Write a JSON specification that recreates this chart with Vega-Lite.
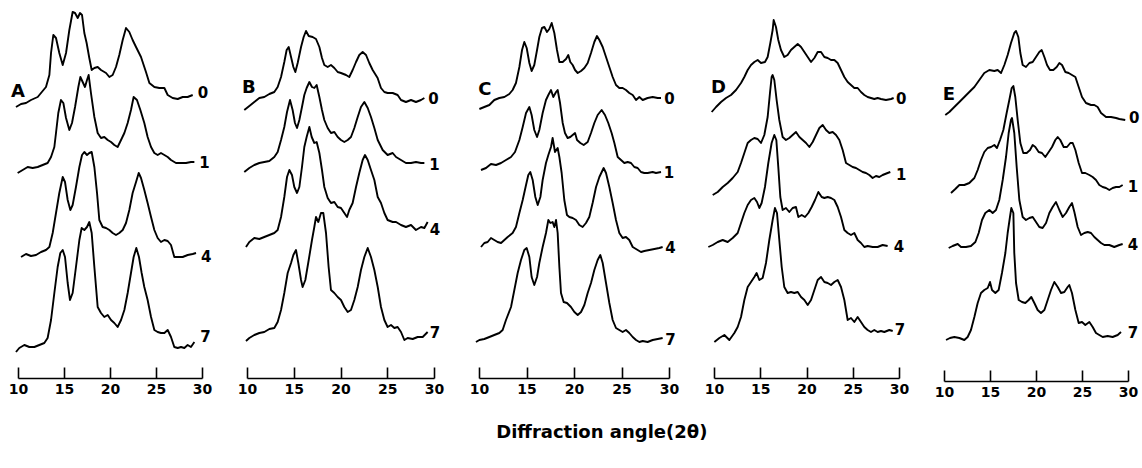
{
"$schema":"https://vega.github.io/schema/vega-lite/v6.json",
"background":"white",
"padding":{"left":8,"top":0,"right":5,"bottom":5},
"autosize":{"type":"pad"},
"config":{"view":{"stroke":null},"axis":{"domainColor":"black","domainWidth":1.6,"tickColor":"black","tickWidth":1.6,"tickSize":-11,"labelFont":"DejaVu Sans","labelFontWeight":"bold","labelFontSize":14,"labelColor":"black","labelPadding":15,"grid":false,"title":null,"labelFlush":false,"labelOverlap":false}},
"title":{"text":"Diffraction angle(2θ)","orient":"bottom","anchor":"middle","font":"DejaVu Sans","fontSize":18,"fontWeight":"bold","color":"black","offset":25,"dx":28},
"spacing":45,
"bounds":"flush",
"datasets":{
"labels":[
{"p":"A","k":"panel","t":"A","x":9.24,"y":286},{"p":"A","k":"sample","t":"0","x":29.53,"y":285},{"p":"A","k":"sample","t":"1","x":29.7,"y":215},{"p":"A","k":"sample","t":"4","x":29.9,"y":121},{"p":"A","k":"sample","t":"7","x":29.8,"y":41},
{"p":"B","k":"panel","t":"B","x":9.47,"y":290},{"p":"B","k":"sample","t":"0","x":29.39,"y":279},{"p":"B","k":"sample","t":"1","x":29.5,"y":213},{"p":"B","k":"sample","t":"4","x":29.55,"y":148},{"p":"B","k":"sample","t":"7","x":29.55,"y":45},
{"p":"C","k":"panel","t":"C","x":9.93,"y":288},{"p":"C","k":"sample","t":"0","x":29.5,"y":279},{"p":"C","k":"sample","t":"1","x":29.46,"y":205},{"p":"C","k":"sample","t":"4","x":29.6,"y":130},{"p":"C","k":"sample","t":"7","x":29.6,"y":38},
{"p":"D","k":"panel","t":"D","x":9.68,"y":290},{"p":"D","k":"sample","t":"0","x":29.68,"y":279},{"p":"D","k":"sample","t":"1","x":29.68,"y":203},{"p":"D","k":"sample","t":"4","x":29.43,"y":131},{"p":"D","k":"sample","t":"7","x":29.55,"y":48},
{"p":"E","k":"panel","t":"E","x":9.86,"y":286},{"p":"E","k":"sample","t":"0","x":30.1,"y":263},{"p":"E","k":"sample","t":"1","x":29.97,"y":194},{"p":"E","k":"sample","t":"4","x":29.97,"y":136},{"p":"E","k":"sample","t":"7","x":29.97,"y":48}
],
"curves":[
{"p":"A","s":"0","x":9.78,"y":271},{"p":"A","s":"0","x":10.33,"y":274},{"p":"A","s":"0","x":10.87,"y":275},{"p":"A","s":"0","x":11.41,"y":278},{"p":"A","s":"0","x":12.14,"y":281},{"p":"A","s":"0","x":12.68,"y":287},{"p":"A","s":"0","x":13.04,"y":291},{"p":"A","s":"0","x":13.41,"y":303},{"p":"A","s":"0","x":13.59,"y":325},{"p":"A","s":"0","x":13.84,"y":343},{"p":"A","s":"0","x":14.13,"y":340},{"p":"A","s":"0","x":14.49,"y":325},{"p":"A","s":"0","x":14.86,"y":313},{"p":"A","s":"0","x":15.22,"y":325},{"p":"A","s":"0","x":15.58,"y":348},{"p":"A","s":"0","x":15.94,"y":366},{"p":"A","s":"0","x":16.2,"y":365},{"p":"A","s":"0","x":16.49,"y":360},{"p":"A","s":"0","x":16.74,"y":365},{"p":"A","s":"0","x":16.96,"y":363},{"p":"A","s":"0","x":17.21,"y":345},{"p":"A","s":"0","x":17.46,"y":335},{"p":"A","s":"0","x":17.75,"y":320},{"p":"A","s":"0","x":18.01,"y":308},{"p":"A","s":"0","x":18.3,"y":310},{"p":"A","s":"0","x":18.66,"y":311},{"p":"A","s":"0","x":19.02,"y":308},{"p":"A","s":"0","x":19.57,"y":305},{"p":"A","s":"0","x":19.93,"y":301},{"p":"A","s":"0","x":20.29,"y":303},{"p":"A","s":"0","x":20.65,"y":311},{"p":"A","s":"0","x":21.01,"y":323},{"p":"A","s":"0","x":21.38,"y":338},{"p":"A","s":"0","x":21.74,"y":350},{"p":"A","s":"0","x":22.1,"y":346},{"p":"A","s":"0","x":22.46,"y":338},{"p":"A","s":"0","x":22.83,"y":331},{"p":"A","s":"0","x":23.37,"y":321},{"p":"A","s":"0","x":23.91,"y":306},{"p":"A","s":"0","x":24.28,"y":295},{"p":"A","s":"0","x":24.82,"y":291},{"p":"A","s":"0","x":25.36,"y":290},{"p":"A","s":"0","x":25.91,"y":290},{"p":"A","s":"0","x":26.27,"y":283},{"p":"A","s":"0","x":26.81,"y":280},{"p":"A","s":"0","x":27.36,"y":279},{"p":"A","s":"0","x":27.9,"y":281},{"p":"A","s":"0","x":28.44,"y":281},{"p":"A","s":"0","x":28.99,"y":283},
{"p":"A","s":"1","x":9.96,"y":205},{"p":"A","s":"1","x":10.51,"y":208},{"p":"A","s":"1","x":11.05,"y":211},{"p":"A","s":"1","x":11.59,"y":210},{"p":"A","s":"1","x":12.14,"y":211},{"p":"A","s":"1","x":12.68,"y":213},{"p":"A","s":"1","x":13.22,"y":215},{"p":"A","s":"1","x":13.59,"y":221},{"p":"A","s":"1","x":13.95,"y":231},{"p":"A","s":"1","x":14.13,"y":245},{"p":"A","s":"1","x":14.38,"y":265},{"p":"A","s":"1","x":14.67,"y":278},{"p":"A","s":"1","x":14.93,"y":275},{"p":"A","s":"1","x":15.22,"y":260},{"p":"A","s":"1","x":15.58,"y":248},{"p":"A","s":"1","x":15.87,"y":255},{"p":"A","s":"1","x":16.2,"y":271},{"p":"A","s":"1","x":16.56,"y":291},{"p":"A","s":"1","x":16.78,"y":301},{"p":"A","s":"1","x":17.03,"y":296},{"p":"A","s":"1","x":17.28,"y":291},{"p":"A","s":"1","x":17.5,"y":298},{"p":"A","s":"1","x":17.68,"y":303},{"p":"A","s":"1","x":17.93,"y":285},{"p":"A","s":"1","x":18.3,"y":261},{"p":"A","s":"1","x":18.66,"y":245},{"p":"A","s":"1","x":19.02,"y":240},{"p":"A","s":"1","x":19.38,"y":241},{"p":"A","s":"1","x":19.75,"y":238},{"p":"A","s":"1","x":20.11,"y":236},{"p":"A","s":"1","x":20.47,"y":233},{"p":"A","s":"1","x":20.83,"y":231},{"p":"A","s":"1","x":21.2,"y":238},{"p":"A","s":"1","x":21.56,"y":245},{"p":"A","s":"1","x":21.92,"y":255},{"p":"A","s":"1","x":22.28,"y":268},{"p":"A","s":"1","x":22.57,"y":281},{"p":"A","s":"1","x":22.93,"y":278},{"p":"A","s":"1","x":23.3,"y":268},{"p":"A","s":"1","x":23.73,"y":255},{"p":"A","s":"1","x":24.09,"y":241},{"p":"A","s":"1","x":24.46,"y":231},{"p":"A","s":"1","x":24.82,"y":225},{"p":"A","s":"1","x":25.18,"y":223},{"p":"A","s":"1","x":25.54,"y":225},{"p":"A","s":"1","x":25.91,"y":223},{"p":"A","s":"1","x":26.27,"y":221},{"p":"A","s":"1","x":26.63,"y":218},{"p":"A","s":"1","x":27.17,"y":215},{"p":"A","s":"1","x":27.72,"y":215},{"p":"A","s":"1","x":28.26,"y":215},{"p":"A","s":"1","x":28.8,"y":216},{"p":"A","s":"1","x":29.17,"y":216},
{"p":"A","s":"4","x":10.33,"y":121},{"p":"A","s":"4","x":10.87,"y":124},{"p":"A","s":"4","x":11.41,"y":122},{"p":"A","s":"4","x":11.96,"y":123},{"p":"A","s":"4","x":12.5,"y":126},{"p":"A","s":"4","x":13.04,"y":128},{"p":"A","s":"4","x":13.41,"y":131},{"p":"A","s":"4","x":13.77,"y":145},{"p":"A","s":"4","x":14.13,"y":165},{"p":"A","s":"4","x":14.49,"y":185},{"p":"A","s":"4","x":14.86,"y":201},{"p":"A","s":"4","x":15.11,"y":196},{"p":"A","s":"4","x":15.4,"y":178},{"p":"A","s":"4","x":15.69,"y":168},{"p":"A","s":"4","x":15.94,"y":173},{"p":"A","s":"4","x":16.3,"y":191},{"p":"A","s":"4","x":16.67,"y":211},{"p":"A","s":"4","x":16.96,"y":223},{"p":"A","s":"4","x":17.21,"y":226},{"p":"A","s":"4","x":17.5,"y":223},{"p":"A","s":"4","x":17.75,"y":225},{"p":"A","s":"4","x":18.01,"y":226},{"p":"A","s":"4","x":18.3,"y":211},{"p":"A","s":"4","x":18.59,"y":185},{"p":"A","s":"4","x":18.84,"y":158},{"p":"A","s":"4","x":19.2,"y":151},{"p":"A","s":"4","x":19.57,"y":150},{"p":"A","s":"4","x":19.93,"y":148},{"p":"A","s":"4","x":20.29,"y":145},{"p":"A","s":"4","x":20.65,"y":143},{"p":"A","s":"4","x":21.01,"y":145},{"p":"A","s":"4","x":21.38,"y":148},{"p":"A","s":"4","x":21.74,"y":155},{"p":"A","s":"4","x":22.1,"y":168},{"p":"A","s":"4","x":22.46,"y":185},{"p":"A","s":"4","x":22.83,"y":196},{"p":"A","s":"4","x":23.12,"y":205},{"p":"A","s":"4","x":23.37,"y":200},{"p":"A","s":"4","x":23.73,"y":188},{"p":"A","s":"4","x":24.09,"y":175},{"p":"A","s":"4","x":24.46,"y":161},{"p":"A","s":"4","x":24.82,"y":148},{"p":"A","s":"4","x":25.18,"y":140},{"p":"A","s":"4","x":25.54,"y":136},{"p":"A","s":"4","x":25.91,"y":138},{"p":"A","s":"4","x":26.27,"y":137},{"p":"A","s":"4","x":26.63,"y":133},{"p":"A","s":"4","x":26.99,"y":121},{"p":"A","s":"4","x":27.36,"y":121},{"p":"A","s":"4","x":27.9,"y":121},{"p":"A","s":"4","x":28.44,"y":123},{"p":"A","s":"4","x":28.99,"y":124},{"p":"A","s":"4","x":29.35,"y":125},
{"p":"A","s":"7","x":9.78,"y":26},{"p":"A","s":"7","x":10.14,"y":30},{"p":"A","s":"7","x":10.69,"y":33},{"p":"A","s":"7","x":11.23,"y":31},{"p":"A","s":"7","x":11.78,"y":31},{"p":"A","s":"7","x":12.32,"y":33},{"p":"A","s":"7","x":12.86,"y":35},{"p":"A","s":"7","x":13.22,"y":40},{"p":"A","s":"7","x":13.59,"y":58},{"p":"A","s":"7","x":13.95,"y":85},{"p":"A","s":"7","x":14.31,"y":111},{"p":"A","s":"7","x":14.6,"y":125},{"p":"A","s":"7","x":14.86,"y":128},{"p":"A","s":"7","x":15.11,"y":121},{"p":"A","s":"7","x":15.4,"y":95},{"p":"A","s":"7","x":15.65,"y":78},{"p":"A","s":"7","x":15.94,"y":85},{"p":"A","s":"7","x":16.3,"y":111},{"p":"A","s":"7","x":16.67,"y":138},{"p":"A","s":"7","x":16.92,"y":150},{"p":"A","s":"7","x":17.21,"y":148},{"p":"A","s":"7","x":17.5,"y":151},{"p":"A","s":"7","x":17.75,"y":156},{"p":"A","s":"7","x":18.01,"y":145},{"p":"A","s":"7","x":18.3,"y":111},{"p":"A","s":"7","x":18.66,"y":71},{"p":"A","s":"7","x":19.02,"y":65},{"p":"A","s":"7","x":19.38,"y":61},{"p":"A","s":"7","x":19.75,"y":63},{"p":"A","s":"7","x":20.11,"y":58},{"p":"A","s":"7","x":20.47,"y":55},{"p":"A","s":"7","x":20.83,"y":51},{"p":"A","s":"7","x":21.2,"y":58},{"p":"A","s":"7","x":21.56,"y":68},{"p":"A","s":"7","x":21.92,"y":85},{"p":"A","s":"7","x":22.28,"y":105},{"p":"A","s":"7","x":22.57,"y":121},{"p":"A","s":"7","x":22.86,"y":130},{"p":"A","s":"7","x":23.15,"y":121},{"p":"A","s":"7","x":23.44,"y":105},{"p":"A","s":"7","x":23.73,"y":91},{"p":"A","s":"7","x":24.09,"y":78},{"p":"A","s":"7","x":24.46,"y":61},{"p":"A","s":"7","x":24.82,"y":48},{"p":"A","s":"7","x":25.18,"y":46},{"p":"A","s":"7","x":25.54,"y":45},{"p":"A","s":"7","x":25.91,"y":45},{"p":"A","s":"7","x":26.27,"y":48},{"p":"A","s":"7","x":26.63,"y":41},{"p":"A","s":"7","x":26.99,"y":31},{"p":"A","s":"7","x":27.36,"y":30},{"p":"A","s":"7","x":27.72,"y":31},{"p":"A","s":"7","x":28.08,"y":30},{"p":"A","s":"7","x":28.44,"y":33},{"p":"A","s":"7","x":28.8,"y":31},{"p":"A","s":"7","x":29.17,"y":36},
{"p":"B","s":"0","x":9.71,"y":268},{"p":"B","s":"0","x":10.25,"y":272},{"p":"B","s":"0","x":10.78,"y":276},{"p":"B","s":"0","x":11.32,"y":280},{"p":"B","s":"0","x":11.85,"y":281},{"p":"B","s":"0","x":12.39,"y":284},{"p":"B","s":"0","x":12.92,"y":286},{"p":"B","s":"0","x":13.28,"y":291},{"p":"B","s":"0","x":13.64,"y":301},{"p":"B","s":"0","x":13.99,"y":316},{"p":"B","s":"0","x":14.24,"y":328},{"p":"B","s":"0","x":14.46,"y":331},{"p":"B","s":"0","x":14.71,"y":321},{"p":"B","s":"0","x":14.96,"y":311},{"p":"B","s":"0","x":15.17,"y":306},{"p":"B","s":"0","x":15.42,"y":315},{"p":"B","s":"0","x":15.78,"y":331},{"p":"B","s":"0","x":16.06,"y":341},{"p":"B","s":"0","x":16.31,"y":347},{"p":"B","s":"0","x":16.6,"y":342},{"p":"B","s":"0","x":17.02,"y":341},{"p":"B","s":"0","x":17.38,"y":339},{"p":"B","s":"0","x":17.74,"y":331},{"p":"B","s":"0","x":18.02,"y":320},{"p":"B","s":"0","x":18.27,"y":313},{"p":"B","s":"0","x":18.63,"y":311},{"p":"B","s":"0","x":18.98,"y":313},{"p":"B","s":"0","x":19.34,"y":310},{"p":"B","s":"0","x":19.7,"y":306},{"p":"B","s":"0","x":20.05,"y":305},{"p":"B","s":"0","x":20.59,"y":303},{"p":"B","s":"0","x":20.94,"y":301},{"p":"B","s":"0","x":21.3,"y":308},{"p":"B","s":"0","x":21.66,"y":316},{"p":"B","s":"0","x":22.01,"y":323},{"p":"B","s":"0","x":22.37,"y":326},{"p":"B","s":"0","x":22.73,"y":323},{"p":"B","s":"0","x":23.08,"y":315},{"p":"B","s":"0","x":23.44,"y":308},{"p":"B","s":"0","x":23.97,"y":300},{"p":"B","s":"0","x":24.33,"y":290},{"p":"B","s":"0","x":24.69,"y":286},{"p":"B","s":"0","x":25.04,"y":285},{"p":"B","s":"0","x":25.58,"y":285},{"p":"B","s":"0","x":26.11,"y":283},{"p":"B","s":"0","x":26.47,"y":278},{"p":"B","s":"0","x":27.0,"y":276},{"p":"B","s":"0","x":27.54,"y":278},{"p":"B","s":"0","x":28.07,"y":276},{"p":"B","s":"0","x":28.61,"y":278},{"p":"B","s":"0","x":28.97,"y":280},
{"p":"B","s":"1","x":9.71,"y":206},{"p":"B","s":"1","x":10.25,"y":210},{"p":"B","s":"1","x":10.78,"y":213},{"p":"B","s":"1","x":11.32,"y":215},{"p":"B","s":"1","x":11.85,"y":216},{"p":"B","s":"1","x":12.39,"y":217},{"p":"B","s":"1","x":12.92,"y":221},{"p":"B","s":"1","x":13.28,"y":226},{"p":"B","s":"1","x":13.64,"y":238},{"p":"B","s":"1","x":13.99,"y":251},{"p":"B","s":"1","x":14.28,"y":266},{"p":"B","s":"1","x":14.6,"y":278},{"p":"B","s":"1","x":14.88,"y":268},{"p":"B","s":"1","x":15.13,"y":255},{"p":"B","s":"1","x":15.35,"y":250},{"p":"B","s":"1","x":15.6,"y":258},{"p":"B","s":"1","x":15.88,"y":271},{"p":"B","s":"1","x":16.13,"y":283},{"p":"B","s":"1","x":16.38,"y":290},{"p":"B","s":"1","x":16.67,"y":296},{"p":"B","s":"1","x":16.95,"y":291},{"p":"B","s":"1","x":17.2,"y":290},{"p":"B","s":"1","x":17.45,"y":293},{"p":"B","s":"1","x":17.74,"y":281},{"p":"B","s":"1","x":18.02,"y":268},{"p":"B","s":"1","x":18.27,"y":258},{"p":"B","s":"1","x":18.63,"y":250},{"p":"B","s":"1","x":18.98,"y":245},{"p":"B","s":"1","x":19.34,"y":246},{"p":"B","s":"1","x":19.7,"y":241},{"p":"B","s":"1","x":20.05,"y":238},{"p":"B","s":"1","x":20.41,"y":236},{"p":"B","s":"1","x":20.77,"y":238},{"p":"B","s":"1","x":21.12,"y":241},{"p":"B","s":"1","x":21.48,"y":250},{"p":"B","s":"1","x":21.84,"y":261},{"p":"B","s":"1","x":22.19,"y":271},{"p":"B","s":"1","x":22.55,"y":276},{"p":"B","s":"1","x":22.91,"y":270},{"p":"B","s":"1","x":23.26,"y":261},{"p":"B","s":"1","x":23.62,"y":250},{"p":"B","s":"1","x":23.98,"y":238},{"p":"B","s":"1","x":24.51,"y":228},{"p":"B","s":"1","x":25.04,"y":223},{"p":"B","s":"1","x":25.58,"y":225},{"p":"B","s":"1","x":25.94,"y":221},{"p":"B","s":"1","x":26.47,"y":218},{"p":"B","s":"1","x":27.0,"y":215},{"p":"B","s":"1","x":27.54,"y":215},{"p":"B","s":"1","x":28.07,"y":216},{"p":"B","s":"1","x":28.61,"y":215},{"p":"B","s":"1","x":28.97,"y":215},
{"p":"B","s":"4","x":9.89,"y":131},{"p":"B","s":"4","x":10.25,"y":136},{"p":"B","s":"4","x":10.78,"y":140},{"p":"B","s":"4","x":11.32,"y":139},{"p":"B","s":"4","x":11.85,"y":141},{"p":"B","s":"4","x":12.39,"y":143},{"p":"B","s":"4","x":12.92,"y":145},{"p":"B","s":"4","x":13.28,"y":148},{"p":"B","s":"4","x":13.64,"y":161},{"p":"B","s":"4","x":13.99,"y":181},{"p":"B","s":"4","x":14.28,"y":201},{"p":"B","s":"4","x":14.53,"y":208},{"p":"B","s":"4","x":14.81,"y":203},{"p":"B","s":"4","x":15.06,"y":191},{"p":"B","s":"4","x":15.35,"y":185},{"p":"B","s":"4","x":15.6,"y":191},{"p":"B","s":"4","x":15.88,"y":211},{"p":"B","s":"4","x":16.13,"y":231},{"p":"B","s":"4","x":16.38,"y":241},{"p":"B","s":"4","x":16.67,"y":251},{"p":"B","s":"4","x":16.92,"y":241},{"p":"B","s":"4","x":17.2,"y":235},{"p":"B","s":"4","x":17.45,"y":236},{"p":"B","s":"4","x":17.74,"y":225},{"p":"B","s":"4","x":18.02,"y":208},{"p":"B","s":"4","x":18.27,"y":191},{"p":"B","s":"4","x":18.63,"y":180},{"p":"B","s":"4","x":18.98,"y":175},{"p":"B","s":"4","x":19.34,"y":176},{"p":"B","s":"4","x":19.7,"y":171},{"p":"B","s":"4","x":20.05,"y":170},{"p":"B","s":"4","x":20.41,"y":165},{"p":"B","s":"4","x":20.7,"y":161},{"p":"B","s":"4","x":20.94,"y":168},{"p":"B","s":"4","x":21.3,"y":175},{"p":"B","s":"4","x":21.66,"y":191},{"p":"B","s":"4","x":22.01,"y":205},{"p":"B","s":"4","x":22.37,"y":218},{"p":"B","s":"4","x":22.62,"y":223},{"p":"B","s":"4","x":22.91,"y":218},{"p":"B","s":"4","x":23.26,"y":208},{"p":"B","s":"4","x":23.62,"y":198},{"p":"B","s":"4","x":23.98,"y":181},{"p":"B","s":"4","x":24.33,"y":175},{"p":"B","s":"4","x":24.69,"y":165},{"p":"B","s":"4","x":25.04,"y":158},{"p":"B","s":"4","x":25.58,"y":156},{"p":"B","s":"4","x":25.94,"y":156},{"p":"B","s":"4","x":26.47,"y":153},{"p":"B","s":"4","x":27.0,"y":151},{"p":"B","s":"4","x":27.54,"y":153},{"p":"B","s":"4","x":28.07,"y":148},{"p":"B","s":"4","x":28.61,"y":151},{"p":"B","s":"4","x":28.97,"y":150},{"p":"B","s":"4","x":29.32,"y":156},
{"p":"B","s":"7","x":9.89,"y":37},{"p":"B","s":"7","x":10.25,"y":40},{"p":"B","s":"7","x":10.78,"y":43},{"p":"B","s":"7","x":11.32,"y":45},{"p":"B","s":"7","x":11.85,"y":46},{"p":"B","s":"7","x":12.39,"y":49},{"p":"B","s":"7","x":12.92,"y":50},{"p":"B","s":"7","x":13.28,"y":56},{"p":"B","s":"7","x":13.64,"y":68},{"p":"B","s":"7","x":13.99,"y":85},{"p":"B","s":"7","x":14.35,"y":105},{"p":"B","s":"7","x":14.71,"y":115},{"p":"B","s":"7","x":14.96,"y":123},{"p":"B","s":"7","x":15.24,"y":128},{"p":"B","s":"7","x":15.49,"y":115},{"p":"B","s":"7","x":15.78,"y":98},{"p":"B","s":"7","x":15.95,"y":91},{"p":"B","s":"7","x":16.24,"y":98},{"p":"B","s":"7","x":16.6,"y":118},{"p":"B","s":"7","x":16.95,"y":138},{"p":"B","s":"7","x":17.2,"y":151},{"p":"B","s":"7","x":17.38,"y":161},{"p":"B","s":"7","x":17.63,"y":156},{"p":"B","s":"7","x":17.91,"y":165},{"p":"B","s":"7","x":18.16,"y":165},{"p":"B","s":"7","x":18.45,"y":145},{"p":"B","s":"7","x":18.73,"y":111},{"p":"B","s":"7","x":18.98,"y":88},{"p":"B","s":"7","x":19.34,"y":85},{"p":"B","s":"7","x":19.7,"y":81},{"p":"B","s":"7","x":20.05,"y":78},{"p":"B","s":"7","x":20.41,"y":71},{"p":"B","s":"7","x":20.77,"y":66},{"p":"B","s":"7","x":21.12,"y":68},{"p":"B","s":"7","x":21.48,"y":78},{"p":"B","s":"7","x":21.84,"y":91},{"p":"B","s":"7","x":22.19,"y":108},{"p":"B","s":"7","x":22.55,"y":121},{"p":"B","s":"7","x":22.91,"y":130},{"p":"B","s":"7","x":23.26,"y":121},{"p":"B","s":"7","x":23.62,"y":108},{"p":"B","s":"7","x":23.98,"y":91},{"p":"B","s":"7","x":24.33,"y":71},{"p":"B","s":"7","x":24.69,"y":58},{"p":"B","s":"7","x":25.04,"y":51},{"p":"B","s":"7","x":25.4,"y":53},{"p":"B","s":"7","x":25.76,"y":50},{"p":"B","s":"7","x":26.11,"y":51},{"p":"B","s":"7","x":26.47,"y":46},{"p":"B","s":"7","x":26.83,"y":38},{"p":"B","s":"7","x":27.18,"y":40},{"p":"B","s":"7","x":27.72,"y":39},{"p":"B","s":"7","x":28.25,"y":41},{"p":"B","s":"7","x":28.79,"y":41},{"p":"B","s":"7","x":29.32,"y":46},
{"p":"C","s":"0","x":10.04,"y":269},{"p":"C","s":"0","x":10.56,"y":271},{"p":"C","s":"0","x":11.09,"y":273},{"p":"C","s":"0","x":11.61,"y":278},{"p":"C","s":"0","x":12.14,"y":280},{"p":"C","s":"0","x":12.67,"y":281},{"p":"C","s":"0","x":13.19,"y":284},{"p":"C","s":"0","x":13.54,"y":288},{"p":"C","s":"0","x":13.89,"y":295},{"p":"C","s":"0","x":14.25,"y":311},{"p":"C","s":"0","x":14.53,"y":328},{"p":"C","s":"0","x":14.77,"y":336},{"p":"C","s":"0","x":15.02,"y":330},{"p":"C","s":"0","x":15.3,"y":315},{"p":"C","s":"0","x":15.54,"y":307},{"p":"C","s":"0","x":15.82,"y":313},{"p":"C","s":"0","x":16.11,"y":328},{"p":"C","s":"0","x":16.35,"y":341},{"p":"C","s":"0","x":16.63,"y":350},{"p":"C","s":"0","x":16.88,"y":351},{"p":"C","s":"0","x":17.16,"y":346},{"p":"C","s":"0","x":17.4,"y":349},{"p":"C","s":"0","x":17.65,"y":355},{"p":"C","s":"0","x":17.93,"y":345},{"p":"C","s":"0","x":18.21,"y":328},{"p":"C","s":"0","x":18.46,"y":316},{"p":"C","s":"0","x":18.81,"y":316},{"p":"C","s":"0","x":19.16,"y":319},{"p":"C","s":"0","x":19.4,"y":323},{"p":"C","s":"0","x":19.61,"y":316},{"p":"C","s":"0","x":19.86,"y":313},{"p":"C","s":"0","x":20.11,"y":308},{"p":"C","s":"0","x":20.39,"y":305},{"p":"C","s":"0","x":20.74,"y":307},{"p":"C","s":"0","x":21.09,"y":310},{"p":"C","s":"0","x":21.44,"y":315},{"p":"C","s":"0","x":21.79,"y":325},{"p":"C","s":"0","x":22.14,"y":336},{"p":"C","s":"0","x":22.42,"y":342},{"p":"C","s":"0","x":22.67,"y":338},{"p":"C","s":"0","x":23.02,"y":331},{"p":"C","s":"0","x":23.37,"y":321},{"p":"C","s":"0","x":23.72,"y":311},{"p":"C","s":"0","x":24.07,"y":301},{"p":"C","s":"0","x":24.42,"y":293},{"p":"C","s":"0","x":24.77,"y":290},{"p":"C","s":"0","x":25.12,"y":290},{"p":"C","s":"0","x":25.47,"y":288},{"p":"C","s":"0","x":25.82,"y":285},{"p":"C","s":"0","x":26.18,"y":283},{"p":"C","s":"0","x":26.53,"y":278},{"p":"C","s":"0","x":26.88,"y":281},{"p":"C","s":"0","x":27.23,"y":278},{"p":"C","s":"0","x":27.75,"y":280},{"p":"C","s":"0","x":28.28,"y":281},{"p":"C","s":"0","x":28.81,"y":280},{"p":"C","s":"0","x":29.16,"y":280},
{"p":"C","s":"1","x":10.21,"y":208},{"p":"C","s":"1","x":10.74,"y":210},{"p":"C","s":"1","x":11.26,"y":214},{"p":"C","s":"1","x":11.79,"y":213},{"p":"C","s":"1","x":12.32,"y":215},{"p":"C","s":"1","x":12.84,"y":218},{"p":"C","s":"1","x":13.37,"y":221},{"p":"C","s":"1","x":13.79,"y":226},{"p":"C","s":"1","x":14.25,"y":238},{"p":"C","s":"1","x":14.6,"y":251},{"p":"C","s":"1","x":14.95,"y":265},{"p":"C","s":"1","x":15.3,"y":271},{"p":"C","s":"1","x":15.54,"y":263},{"p":"C","s":"1","x":15.82,"y":248},{"p":"C","s":"1","x":16.11,"y":241},{"p":"C","s":"1","x":16.35,"y":248},{"p":"C","s":"1","x":16.7,"y":265},{"p":"C","s":"1","x":17.05,"y":278},{"p":"C","s":"1","x":17.3,"y":283},{"p":"C","s":"1","x":17.58,"y":288},{"p":"C","s":"1","x":17.82,"y":281},{"p":"C","s":"1","x":18.11,"y":286},{"p":"C","s":"1","x":18.28,"y":288},{"p":"C","s":"1","x":18.53,"y":275},{"p":"C","s":"1","x":18.81,"y":255},{"p":"C","s":"1","x":19.05,"y":245},{"p":"C","s":"1","x":19.33,"y":240},{"p":"C","s":"1","x":19.61,"y":241},{"p":"C","s":"1","x":19.86,"y":243},{"p":"C","s":"1","x":20.11,"y":245},{"p":"C","s":"1","x":20.32,"y":238},{"p":"C","s":"1","x":20.67,"y":235},{"p":"C","s":"1","x":21.02,"y":233},{"p":"C","s":"1","x":21.44,"y":236},{"p":"C","s":"1","x":21.79,"y":245},{"p":"C","s":"1","x":22.14,"y":255},{"p":"C","s":"1","x":22.49,"y":263},{"p":"C","s":"1","x":22.91,"y":268},{"p":"C","s":"1","x":23.26,"y":263},{"p":"C","s":"1","x":23.61,"y":255},{"p":"C","s":"1","x":23.96,"y":245},{"p":"C","s":"1","x":24.25,"y":235},{"p":"C","s":"1","x":24.6,"y":221},{"p":"C","s":"1","x":24.95,"y":218},{"p":"C","s":"1","x":25.3,"y":215},{"p":"C","s":"1","x":25.65,"y":216},{"p":"C","s":"1","x":26.0,"y":215},{"p":"C","s":"1","x":26.35,"y":211},{"p":"C","s":"1","x":26.7,"y":210},{"p":"C","s":"1","x":27.05,"y":206},{"p":"C","s":"1","x":27.4,"y":205},{"p":"C","s":"1","x":27.75,"y":205},{"p":"C","s":"1","x":28.28,"y":206},{"p":"C","s":"1","x":28.63,"y":205},{"p":"C","s":"1","x":29.16,"y":206},
{"p":"C","s":"4","x":10.21,"y":131},{"p":"C","s":"4","x":10.56,"y":135},{"p":"C","s":"4","x":10.91,"y":136},{"p":"C","s":"4","x":11.26,"y":140},{"p":"C","s":"4","x":11.61,"y":138},{"p":"C","s":"4","x":11.96,"y":136},{"p":"C","s":"4","x":12.32,"y":135},{"p":"C","s":"4","x":12.67,"y":138},{"p":"C","s":"4","x":13.02,"y":141},{"p":"C","s":"4","x":13.54,"y":145},{"p":"C","s":"4","x":13.89,"y":151},{"p":"C","s":"4","x":14.25,"y":165},{"p":"C","s":"4","x":14.6,"y":178},{"p":"C","s":"4","x":14.95,"y":193},{"p":"C","s":"4","x":15.19,"y":203},{"p":"C","s":"4","x":15.4,"y":206},{"p":"C","s":"4","x":15.65,"y":198},{"p":"C","s":"4","x":15.93,"y":181},{"p":"C","s":"4","x":16.18,"y":173},{"p":"C","s":"4","x":16.46,"y":181},{"p":"C","s":"4","x":16.7,"y":198},{"p":"C","s":"4","x":17.05,"y":215},{"p":"C","s":"4","x":17.3,"y":223},{"p":"C","s":"4","x":17.58,"y":231},{"p":"C","s":"4","x":17.75,"y":240},{"p":"C","s":"4","x":18.0,"y":226},{"p":"C","s":"4","x":18.28,"y":230},{"p":"C","s":"4","x":18.46,"y":221},{"p":"C","s":"4","x":18.7,"y":205},{"p":"C","s":"4","x":18.98,"y":178},{"p":"C","s":"4","x":19.26,"y":163},{"p":"C","s":"4","x":19.51,"y":161},{"p":"C","s":"4","x":19.86,"y":160},{"p":"C","s":"4","x":20.21,"y":158},{"p":"C","s":"4","x":20.56,"y":153},{"p":"C","s":"4","x":20.91,"y":151},{"p":"C","s":"4","x":21.26,"y":155},{"p":"C","s":"4","x":21.61,"y":161},{"p":"C","s":"4","x":21.96,"y":175},{"p":"C","s":"4","x":22.32,"y":191},{"p":"C","s":"4","x":22.67,"y":201},{"p":"C","s":"4","x":23.12,"y":210},{"p":"C","s":"4","x":23.37,"y":205},{"p":"C","s":"4","x":23.72,"y":191},{"p":"C","s":"4","x":24.07,"y":175},{"p":"C","s":"4","x":24.42,"y":158},{"p":"C","s":"4","x":24.77,"y":145},{"p":"C","s":"4","x":25.12,"y":140},{"p":"C","s":"4","x":25.47,"y":141},{"p":"C","s":"4","x":25.82,"y":138},{"p":"C","s":"4","x":26.18,"y":131},{"p":"C","s":"4","x":26.7,"y":128},{"p":"C","s":"4","x":27.05,"y":126},{"p":"C","s":"4","x":27.4,"y":127},{"p":"C","s":"4","x":27.93,"y":128},{"p":"C","s":"4","x":28.46,"y":129},{"p":"C","s":"4","x":28.98,"y":130},{"p":"C","s":"4","x":29.33,"y":131},
{"p":"C","s":"7","x":9.68,"y":36},{"p":"C","s":"7","x":10.04,"y":38},{"p":"C","s":"7","x":10.56,"y":39},{"p":"C","s":"7","x":11.09,"y":41},{"p":"C","s":"7","x":11.61,"y":43},{"p":"C","s":"7","x":12.14,"y":45},{"p":"C","s":"7","x":12.49,"y":48},{"p":"C","s":"7","x":12.84,"y":58},{"p":"C","s":"7","x":13.37,"y":71},{"p":"C","s":"7","x":13.72,"y":88},{"p":"C","s":"7","x":14.07,"y":105},{"p":"C","s":"7","x":14.42,"y":118},{"p":"C","s":"7","x":14.77,"y":128},{"p":"C","s":"7","x":15.02,"y":130},{"p":"C","s":"7","x":15.3,"y":121},{"p":"C","s":"7","x":15.54,"y":101},{"p":"C","s":"7","x":15.82,"y":93},{"p":"C","s":"7","x":16.11,"y":101},{"p":"C","s":"7","x":16.35,"y":115},{"p":"C","s":"7","x":16.7,"y":131},{"p":"C","s":"7","x":17.05,"y":145},{"p":"C","s":"7","x":17.3,"y":158},{"p":"C","s":"7","x":17.51,"y":155},{"p":"C","s":"7","x":17.75,"y":156},{"p":"C","s":"7","x":17.93,"y":151},{"p":"C","s":"7","x":18.11,"y":158},{"p":"C","s":"7","x":18.28,"y":145},{"p":"C","s":"7","x":18.46,"y":111},{"p":"C","s":"7","x":18.63,"y":85},{"p":"C","s":"7","x":18.91,"y":76},{"p":"C","s":"7","x":19.26,"y":75},{"p":"C","s":"7","x":19.68,"y":71},{"p":"C","s":"7","x":20.04,"y":66},{"p":"C","s":"7","x":20.39,"y":63},{"p":"C","s":"7","x":20.74,"y":66},{"p":"C","s":"7","x":21.09,"y":73},{"p":"C","s":"7","x":21.44,"y":85},{"p":"C","s":"7","x":21.79,"y":95},{"p":"C","s":"7","x":22.14,"y":108},{"p":"C","s":"7","x":22.49,"y":118},{"p":"C","s":"7","x":22.77,"y":123},{"p":"C","s":"7","x":23.02,"y":115},{"p":"C","s":"7","x":23.37,"y":95},{"p":"C","s":"7","x":23.72,"y":75},{"p":"C","s":"7","x":24.07,"y":58},{"p":"C","s":"7","x":24.42,"y":50},{"p":"C","s":"7","x":24.77,"y":48},{"p":"C","s":"7","x":25.12,"y":46},{"p":"C","s":"7","x":25.47,"y":48},{"p":"C","s":"7","x":25.82,"y":45},{"p":"C","s":"7","x":26.18,"y":41},{"p":"C","s":"7","x":26.53,"y":38},{"p":"C","s":"7","x":26.88,"y":36},{"p":"C","s":"7","x":27.23,"y":37},{"p":"C","s":"7","x":27.75,"y":36},{"p":"C","s":"7","x":28.28,"y":38},{"p":"C","s":"7","x":28.81,"y":39},{"p":"C","s":"7","x":29.33,"y":40},
{"p":"D","s":"0","x":9.75,"y":266},{"p":"D","s":"0","x":10.22,"y":271},{"p":"D","s":"0","x":10.76,"y":276},{"p":"D","s":"0","x":11.3,"y":280},{"p":"D","s":"0","x":11.84,"y":283},{"p":"D","s":"0","x":12.38,"y":288},{"p":"D","s":"0","x":12.92,"y":295},{"p":"D","s":"0","x":13.28,"y":301},{"p":"D","s":"0","x":13.64,"y":308},{"p":"D","s":"0","x":14.0,"y":313},{"p":"D","s":"0","x":14.36,"y":316},{"p":"D","s":"0","x":14.72,"y":318},{"p":"D","s":"0","x":15.08,"y":315},{"p":"D","s":"0","x":15.51,"y":316},{"p":"D","s":"0","x":15.8,"y":321},{"p":"D","s":"0","x":16.09,"y":335},{"p":"D","s":"0","x":16.34,"y":348},{"p":"D","s":"0","x":16.45,"y":358},{"p":"D","s":"0","x":16.7,"y":351},{"p":"D","s":"0","x":16.95,"y":338},{"p":"D","s":"0","x":17.24,"y":328},{"p":"D","s":"0","x":17.6,"y":321},{"p":"D","s":"0","x":17.96,"y":323},{"p":"D","s":"0","x":18.32,"y":328},{"p":"D","s":"0","x":18.68,"y":331},{"p":"D","s":"0","x":19.05,"y":334},{"p":"D","s":"0","x":19.41,"y":331},{"p":"D","s":"0","x":19.77,"y":326},{"p":"D","s":"0","x":20.13,"y":321},{"p":"D","s":"0","x":20.49,"y":316},{"p":"D","s":"0","x":20.85,"y":320},{"p":"D","s":"0","x":21.21,"y":326},{"p":"D","s":"0","x":21.57,"y":326},{"p":"D","s":"0","x":21.93,"y":321},{"p":"D","s":"0","x":22.29,"y":320},{"p":"D","s":"0","x":22.65,"y":318},{"p":"D","s":"0","x":23.01,"y":318},{"p":"D","s":"0","x":23.37,"y":315},{"p":"D","s":"0","x":23.73,"y":308},{"p":"D","s":"0","x":24.09,"y":301},{"p":"D","s":"0","x":24.45,"y":296},{"p":"D","s":"0","x":24.81,"y":293},{"p":"D","s":"0","x":25.17,"y":290},{"p":"D","s":"0","x":25.53,"y":290},{"p":"D","s":"0","x":25.89,"y":286},{"p":"D","s":"0","x":26.25,"y":283},{"p":"D","s":"0","x":26.61,"y":281},{"p":"D","s":"0","x":26.97,"y":280},{"p":"D","s":"0","x":27.33,"y":279},{"p":"D","s":"0","x":27.69,"y":280},{"p":"D","s":"0","x":28.05,"y":279},{"p":"D","s":"0","x":28.59,"y":278},{"p":"D","s":"0","x":29.14,"y":279},{"p":"D","s":"0","x":29.42,"y":280},
{"p":"D","s":"1","x":9.86,"y":183},{"p":"D","s":"1","x":10.4,"y":186},{"p":"D","s":"1","x":10.94,"y":191},{"p":"D","s":"1","x":11.48,"y":195},{"p":"D","s":"1","x":12.02,"y":200},{"p":"D","s":"1","x":12.56,"y":206},{"p":"D","s":"1","x":12.92,"y":215},{"p":"D","s":"1","x":13.28,"y":225},{"p":"D","s":"1","x":13.64,"y":235},{"p":"D","s":"1","x":14.0,"y":238},{"p":"D","s":"1","x":14.36,"y":240},{"p":"D","s":"1","x":14.72,"y":239},{"p":"D","s":"1","x":15.08,"y":235},{"p":"D","s":"1","x":15.44,"y":243},{"p":"D","s":"1","x":15.8,"y":261},{"p":"D","s":"1","x":16.05,"y":285},{"p":"D","s":"1","x":16.23,"y":301},{"p":"D","s":"1","x":16.34,"y":303},{"p":"D","s":"1","x":16.52,"y":298},{"p":"D","s":"1","x":16.77,"y":278},{"p":"D","s":"1","x":17.06,"y":258},{"p":"D","s":"1","x":17.42,"y":241},{"p":"D","s":"1","x":17.78,"y":238},{"p":"D","s":"1","x":18.14,"y":240},{"p":"D","s":"1","x":18.5,"y":243},{"p":"D","s":"1","x":18.86,"y":246},{"p":"D","s":"1","x":19.23,"y":241},{"p":"D","s":"1","x":19.59,"y":238},{"p":"D","s":"1","x":19.95,"y":235},{"p":"D","s":"1","x":20.31,"y":231},{"p":"D","s":"1","x":20.67,"y":236},{"p":"D","s":"1","x":21.03,"y":243},{"p":"D","s":"1","x":21.39,"y":250},{"p":"D","s":"1","x":21.75,"y":253},{"p":"D","s":"1","x":22.11,"y":248},{"p":"D","s":"1","x":22.47,"y":245},{"p":"D","s":"1","x":22.83,"y":246},{"p":"D","s":"1","x":23.19,"y":243},{"p":"D","s":"1","x":23.55,"y":238},{"p":"D","s":"1","x":23.91,"y":228},{"p":"D","s":"1","x":24.27,"y":215},{"p":"D","s":"1","x":24.63,"y":213},{"p":"D","s":"1","x":24.99,"y":211},{"p":"D","s":"1","x":25.35,"y":210},{"p":"D","s":"1","x":25.71,"y":208},{"p":"D","s":"1","x":26.07,"y":206},{"p":"D","s":"1","x":26.43,"y":205},{"p":"D","s":"1","x":26.79,"y":203},{"p":"D","s":"1","x":27.15,"y":200},{"p":"D","s":"1","x":27.51,"y":202},{"p":"D","s":"1","x":27.87,"y":201},{"p":"D","s":"1","x":28.23,"y":203},{"p":"D","s":"1","x":28.77,"y":205},{"p":"D","s":"1","x":29.06,"y":206},
{"p":"D","s":"4","x":9.39,"y":131},{"p":"D","s":"4","x":9.86,"y":133},{"p":"D","s":"4","x":10.4,"y":136},{"p":"D","s":"4","x":10.94,"y":138},{"p":"D","s":"4","x":11.48,"y":136},{"p":"D","s":"4","x":12.02,"y":140},{"p":"D","s":"4","x":12.56,"y":145},{"p":"D","s":"4","x":12.92,"y":155},{"p":"D","s":"4","x":13.28,"y":165},{"p":"D","s":"4","x":13.64,"y":173},{"p":"D","s":"4","x":14.0,"y":178},{"p":"D","s":"4","x":14.36,"y":180},{"p":"D","s":"4","x":14.65,"y":176},{"p":"D","s":"4","x":14.9,"y":170},{"p":"D","s":"4","x":15.15,"y":175},{"p":"D","s":"4","x":15.51,"y":191},{"p":"D","s":"4","x":15.87,"y":215},{"p":"D","s":"4","x":16.23,"y":235},{"p":"D","s":"4","x":16.52,"y":243},{"p":"D","s":"4","x":16.74,"y":238},{"p":"D","s":"4","x":16.95,"y":211},{"p":"D","s":"4","x":17.17,"y":181},{"p":"D","s":"4","x":17.42,"y":168},{"p":"D","s":"4","x":17.78,"y":170},{"p":"D","s":"4","x":18.14,"y":166},{"p":"D","s":"4","x":18.5,"y":170},{"p":"D","s":"4","x":18.86,"y":171},{"p":"D","s":"4","x":19.12,"y":161},{"p":"D","s":"4","x":19.48,"y":163},{"p":"D","s":"4","x":19.84,"y":161},{"p":"D","s":"4","x":20.2,"y":165},{"p":"D","s":"4","x":20.56,"y":171},{"p":"D","s":"4","x":20.92,"y":178},{"p":"D","s":"4","x":21.28,"y":186},{"p":"D","s":"4","x":21.64,"y":181},{"p":"D","s":"4","x":21.93,"y":180},{"p":"D","s":"4","x":22.29,"y":181},{"p":"D","s":"4","x":22.65,"y":180},{"p":"D","s":"4","x":23.01,"y":178},{"p":"D","s":"4","x":23.37,"y":171},{"p":"D","s":"4","x":23.73,"y":161},{"p":"D","s":"4","x":24.09,"y":148},{"p":"D","s":"4","x":24.45,"y":145},{"p":"D","s":"4","x":24.81,"y":143},{"p":"D","s":"4","x":25.17,"y":145},{"p":"D","s":"4","x":25.53,"y":138},{"p":"D","s":"4","x":25.89,"y":135},{"p":"D","s":"4","x":26.25,"y":131},{"p":"D","s":"4","x":26.61,"y":132},{"p":"D","s":"4","x":27.15,"y":131},{"p":"D","s":"4","x":27.69,"y":131},{"p":"D","s":"4","x":28.23,"y":133},{"p":"D","s":"4","x":28.77,"y":132},
{"p":"D","s":"7","x":10.04,"y":36},{"p":"D","s":"7","x":10.58,"y":40},{"p":"D","s":"7","x":11.12,"y":43},{"p":"D","s":"7","x":11.66,"y":38},{"p":"D","s":"7","x":12.2,"y":45},{"p":"D","s":"7","x":12.56,"y":51},{"p":"D","s":"7","x":12.92,"y":61},{"p":"D","s":"7","x":13.28,"y":78},{"p":"D","s":"7","x":13.64,"y":91},{"p":"D","s":"7","x":14.0,"y":96},{"p":"D","s":"7","x":14.36,"y":101},{"p":"D","s":"7","x":14.61,"y":105},{"p":"D","s":"7","x":14.9,"y":98},{"p":"D","s":"7","x":15.26,"y":100},{"p":"D","s":"7","x":15.62,"y":115},{"p":"D","s":"7","x":15.98,"y":138},{"p":"D","s":"7","x":16.34,"y":158},{"p":"D","s":"7","x":16.59,"y":170},{"p":"D","s":"7","x":16.81,"y":165},{"p":"D","s":"7","x":17.06,"y":138},{"p":"D","s":"7","x":17.32,"y":111},{"p":"D","s":"7","x":17.6,"y":91},{"p":"D","s":"7","x":17.96,"y":85},{"p":"D","s":"7","x":18.32,"y":86},{"p":"D","s":"7","x":18.68,"y":85},{"p":"D","s":"7","x":19.05,"y":86},{"p":"D","s":"7","x":19.41,"y":81},{"p":"D","s":"7","x":19.77,"y":78},{"p":"D","s":"7","x":20.13,"y":73},{"p":"D","s":"7","x":20.49,"y":78},{"p":"D","s":"7","x":20.85,"y":88},{"p":"D","s":"7","x":21.21,"y":98},{"p":"D","s":"7","x":21.57,"y":101},{"p":"D","s":"7","x":21.93,"y":96},{"p":"D","s":"7","x":22.29,"y":95},{"p":"D","s":"7","x":22.65,"y":93},{"p":"D","s":"7","x":23.01,"y":96},{"p":"D","s":"7","x":23.37,"y":98},{"p":"D","s":"7","x":23.73,"y":91},{"p":"D","s":"7","x":24.09,"y":78},{"p":"D","s":"7","x":24.45,"y":58},{"p":"D","s":"7","x":24.81,"y":60},{"p":"D","s":"7","x":25.17,"y":56},{"p":"D","s":"7","x":25.53,"y":61},{"p":"D","s":"7","x":25.89,"y":56},{"p":"D","s":"7","x":26.25,"y":51},{"p":"D","s":"7","x":26.61,"y":48},{"p":"D","s":"7","x":26.97,"y":46},{"p":"D","s":"7","x":27.33,"y":48},{"p":"D","s":"7","x":27.69,"y":46},{"p":"D","s":"7","x":28.05,"y":47},{"p":"D","s":"7","x":28.41,"y":46},{"p":"D","s":"7","x":28.95,"y":48},{"p":"D","s":"7","x":29.32,"y":47},
{"p":"E","s":"0","x":10.14,"y":266},{"p":"E","s":"0","x":10.58,"y":269},{"p":"E","s":"0","x":11.12,"y":274},{"p":"E","s":"0","x":11.67,"y":279},{"p":"E","s":"0","x":12.21,"y":284},{"p":"E","s":"0","x":12.75,"y":289},{"p":"E","s":"0","x":13.3,"y":294},{"p":"E","s":"0","x":13.84,"y":301},{"p":"E","s":"0","x":14.38,"y":308},{"p":"E","s":"0","x":14.93,"y":311},{"p":"E","s":"0","x":15.47,"y":310},{"p":"E","s":"0","x":15.83,"y":311},{"p":"E","s":"0","x":16.2,"y":308},{"p":"E","s":"0","x":16.56,"y":316},{"p":"E","s":"0","x":16.92,"y":326},{"p":"E","s":"0","x":17.28,"y":338},{"p":"E","s":"0","x":17.64,"y":348},{"p":"E","s":"0","x":17.83,"y":350},{"p":"E","s":"0","x":18.08,"y":344},{"p":"E","s":"0","x":18.3,"y":328},{"p":"E","s":"0","x":18.55,"y":316},{"p":"E","s":"0","x":18.91,"y":314},{"p":"E","s":"0","x":19.28,"y":318},{"p":"E","s":"0","x":19.64,"y":319},{"p":"E","s":"0","x":20.0,"y":324},{"p":"E","s":"0","x":20.36,"y":329},{"p":"E","s":"0","x":20.62,"y":331},{"p":"E","s":"0","x":20.91,"y":324},{"p":"E","s":"0","x":21.2,"y":316},{"p":"E","s":"0","x":21.52,"y":311},{"p":"E","s":"0","x":21.88,"y":311},{"p":"E","s":"0","x":22.25,"y":314},{"p":"E","s":"0","x":22.54,"y":318},{"p":"E","s":"0","x":22.83,"y":316},{"p":"E","s":"0","x":23.19,"y":309},{"p":"E","s":"0","x":23.55,"y":308},{"p":"E","s":"0","x":23.91,"y":306},{"p":"E","s":"0","x":24.28,"y":304},{"p":"E","s":"0","x":24.64,"y":294},{"p":"E","s":"0","x":25.0,"y":284},{"p":"E","s":"0","x":25.43,"y":278},{"p":"E","s":"0","x":25.98,"y":276},{"p":"E","s":"0","x":26.34,"y":276},{"p":"E","s":"0","x":26.7,"y":274},{"p":"E","s":"0","x":27.07,"y":268},{"p":"E","s":"0","x":27.61,"y":264},{"p":"E","s":"0","x":28.15,"y":264},{"p":"E","s":"0","x":28.7,"y":263},{"p":"E","s":"0","x":29.06,"y":262},{"p":"E","s":"0","x":29.7,"y":261},
{"p":"E","s":"1","x":10.76,"y":188},{"p":"E","s":"1","x":11.23,"y":192},{"p":"E","s":"1","x":11.67,"y":196},{"p":"E","s":"1","x":12.21,"y":196},{"p":"E","s":"1","x":12.75,"y":198},{"p":"E","s":"1","x":13.3,"y":203},{"p":"E","s":"1","x":13.66,"y":211},{"p":"E","s":"1","x":14.02,"y":221},{"p":"E","s":"1","x":14.38,"y":229},{"p":"E","s":"1","x":14.75,"y":233},{"p":"E","s":"1","x":15.11,"y":234},{"p":"E","s":"1","x":15.47,"y":236},{"p":"E","s":"1","x":15.76,"y":233},{"p":"E","s":"1","x":16.09,"y":241},{"p":"E","s":"1","x":16.45,"y":251},{"p":"E","s":"1","x":16.81,"y":268},{"p":"E","s":"1","x":17.1,"y":281},{"p":"E","s":"1","x":17.36,"y":293},{"p":"E","s":"1","x":17.54,"y":295},{"p":"E","s":"1","x":17.75,"y":284},{"p":"E","s":"1","x":18.01,"y":261},{"p":"E","s":"1","x":18.3,"y":238},{"p":"E","s":"1","x":18.62,"y":228},{"p":"E","s":"1","x":18.99,"y":228},{"p":"E","s":"1","x":19.35,"y":231},{"p":"E","s":"1","x":19.64,"y":236},{"p":"E","s":"1","x":19.93,"y":234},{"p":"E","s":"1","x":20.29,"y":229},{"p":"E","s":"1","x":20.65,"y":228},{"p":"E","s":"1","x":21.01,"y":224},{"p":"E","s":"1","x":21.38,"y":229},{"p":"E","s":"1","x":21.74,"y":234},{"p":"E","s":"1","x":22.1,"y":241},{"p":"E","s":"1","x":22.36,"y":244},{"p":"E","s":"1","x":22.64,"y":241},{"p":"E","s":"1","x":23.01,"y":234},{"p":"E","s":"1","x":23.37,"y":234},{"p":"E","s":"1","x":23.73,"y":238},{"p":"E","s":"1","x":23.99,"y":238},{"p":"E","s":"1","x":24.28,"y":231},{"p":"E","s":"1","x":24.64,"y":218},{"p":"E","s":"1","x":25.0,"y":208},{"p":"E","s":"1","x":25.36,"y":208},{"p":"E","s":"1","x":25.8,"y":206},{"p":"E","s":"1","x":26.16,"y":204},{"p":"E","s":"1","x":26.52,"y":201},{"p":"E","s":"1","x":26.88,"y":196},{"p":"E","s":"1","x":27.25,"y":194},{"p":"E","s":"1","x":27.61,"y":193},{"p":"E","s":"1","x":27.97,"y":191},{"p":"E","s":"1","x":28.33,"y":193},{"p":"E","s":"1","x":28.7,"y":194},{"p":"E","s":"1","x":29.06,"y":194},{"p":"E","s":"1","x":29.42,"y":196},
{"p":"E","s":"4","x":10.51,"y":133},{"p":"E","s":"4","x":10.94,"y":135},{"p":"E","s":"4","x":11.49,"y":137},{"p":"E","s":"4","x":11.85,"y":134},{"p":"E","s":"4","x":12.39,"y":134},{"p":"E","s":"4","x":12.93,"y":135},{"p":"E","s":"4","x":13.41,"y":139},{"p":"E","s":"4","x":13.77,"y":148},{"p":"E","s":"4","x":14.13,"y":161},{"p":"E","s":"4","x":14.49,"y":168},{"p":"E","s":"4","x":14.93,"y":171},{"p":"E","s":"4","x":15.29,"y":168},{"p":"E","s":"4","x":15.65,"y":171},{"p":"E","s":"4","x":16.01,"y":181},{"p":"E","s":"4","x":16.38,"y":201},{"p":"E","s":"4","x":16.74,"y":224},{"p":"E","s":"4","x":17.03,"y":248},{"p":"E","s":"4","x":17.28,"y":261},{"p":"E","s":"4","x":17.39,"y":263},{"p":"E","s":"4","x":17.64,"y":248},{"p":"E","s":"4","x":17.9,"y":214},{"p":"E","s":"4","x":18.19,"y":181},{"p":"E","s":"4","x":18.55,"y":164},{"p":"E","s":"4","x":18.91,"y":161},{"p":"E","s":"4","x":19.28,"y":163},{"p":"E","s":"4","x":19.64,"y":164},{"p":"E","s":"4","x":20.0,"y":159},{"p":"E","s":"4","x":20.36,"y":154},{"p":"E","s":"4","x":20.72,"y":153},{"p":"E","s":"4","x":21.09,"y":158},{"p":"E","s":"4","x":21.45,"y":168},{"p":"E","s":"4","x":21.81,"y":174},{"p":"E","s":"4","x":22.17,"y":179},{"p":"E","s":"4","x":22.54,"y":171},{"p":"E","s":"4","x":22.9,"y":164},{"p":"E","s":"4","x":23.26,"y":168},{"p":"E","s":"4","x":23.62,"y":174},{"p":"E","s":"4","x":23.91,"y":178},{"p":"E","s":"4","x":24.17,"y":169},{"p":"E","s":"4","x":24.53,"y":154},{"p":"E","s":"4","x":24.89,"y":146},{"p":"E","s":"4","x":25.25,"y":148},{"p":"E","s":"4","x":25.62,"y":149},{"p":"E","s":"4","x":25.98,"y":148},{"p":"E","s":"4","x":26.34,"y":144},{"p":"E","s":"4","x":26.7,"y":141},{"p":"E","s":"4","x":27.07,"y":138},{"p":"E","s":"4","x":27.43,"y":136},{"p":"E","s":"4","x":27.97,"y":136},{"p":"E","s":"4","x":28.51,"y":134},{"p":"E","s":"4","x":29.06,"y":136},{"p":"E","s":"4","x":29.42,"y":137},
{"p":"E","s":"7","x":10.22,"y":41},{"p":"E","s":"7","x":10.65,"y":43},{"p":"E","s":"7","x":11.12,"y":44},{"p":"E","s":"7","x":11.67,"y":43},{"p":"E","s":"7","x":12.21,"y":41},{"p":"E","s":"7","x":12.57,"y":44},{"p":"E","s":"7","x":12.93,"y":51},{"p":"E","s":"7","x":13.3,"y":64},{"p":"E","s":"7","x":13.66,"y":78},{"p":"E","s":"7","x":14.02,"y":88},{"p":"E","s":"7","x":14.38,"y":91},{"p":"E","s":"7","x":14.75,"y":93},{"p":"E","s":"7","x":15.0,"y":99},{"p":"E","s":"7","x":15.22,"y":91},{"p":"E","s":"7","x":15.58,"y":88},{"p":"E","s":"7","x":15.94,"y":91},{"p":"E","s":"7","x":16.3,"y":108},{"p":"E","s":"7","x":16.67,"y":128},{"p":"E","s":"7","x":16.92,"y":148},{"p":"E","s":"7","x":17.17,"y":164},{"p":"E","s":"7","x":17.32,"y":173},{"p":"E","s":"7","x":17.54,"y":168},{"p":"E","s":"7","x":17.64,"y":128},{"p":"E","s":"7","x":17.83,"y":98},{"p":"E","s":"7","x":18.12,"y":81},{"p":"E","s":"7","x":18.48,"y":79},{"p":"E","s":"7","x":18.84,"y":78},{"p":"E","s":"7","x":19.2,"y":81},{"p":"E","s":"7","x":19.49,"y":84},{"p":"E","s":"7","x":19.82,"y":78},{"p":"E","s":"7","x":20.18,"y":71},{"p":"E","s":"7","x":20.54,"y":68},{"p":"E","s":"7","x":20.91,"y":71},{"p":"E","s":"7","x":21.27,"y":81},{"p":"E","s":"7","x":21.63,"y":91},{"p":"E","s":"7","x":21.99,"y":99},{"p":"E","s":"7","x":22.36,"y":94},{"p":"E","s":"7","x":22.72,"y":88},{"p":"E","s":"7","x":23.08,"y":89},{"p":"E","s":"7","x":23.44,"y":94},{"p":"E","s":"7","x":23.62,"y":96},{"p":"E","s":"7","x":23.91,"y":88},{"p":"E","s":"7","x":24.28,"y":71},{"p":"E","s":"7","x":24.64,"y":58},{"p":"E","s":"7","x":25.0,"y":59},{"p":"E","s":"7","x":25.36,"y":56},{"p":"E","s":"7","x":25.8,"y":59},{"p":"E","s":"7","x":26.16,"y":54},{"p":"E","s":"7","x":26.52,"y":48},{"p":"E","s":"7","x":26.88,"y":46},{"p":"E","s":"7","x":27.25,"y":44},{"p":"E","s":"7","x":27.79,"y":45},{"p":"E","s":"7","x":28.33,"y":44},{"p":"E","s":"7","x":28.88,"y":46},{"p":"E","s":"7","x":29.24,"y":49}
]},
"hconcat":[
{"width":184,"height":378,"layer":[
 {"data":{"name":"curves"},"transform":[{"filter":"datum.p==='A'"}],"mark":{"type":"line","color":"black","strokeWidth":1.9,"strokeJoin":"round"},"encoding":{"x":{"field":"x","type":"quantitative","scale":{"domain":[10,30],"nice":false,"zero":false},"axis":{"values":[10,15,20,25,30]}},"y":{"field":"y","type":"quantitative","scale":{"domain":[0,378],"nice":false},"axis":null},"detail":{"field":"s"}}},
 {"data":{"name":"labels"},"transform":[{"filter":"datum.p==='A' && datum.k==='panel'"}],"mark":{"type":"text","align":"left","baseline":"middle","font":"DejaVu Sans","fontWeight":"bold","fontSize":18,"color":"black"},"encoding":{"x":{"field":"x","type":"quantitative"},"y":{"field":"y","type":"quantitative"},"text":{"field":"t"}}},
 {"data":{"name":"labels"},"transform":[{"filter":"datum.p==='A' && datum.k==='sample'"}],"mark":{"type":"text","align":"left","baseline":"middle","font":"DejaVu Sans","fontWeight":"bold","fontSize":15,"color":"black"},"encoding":{"x":{"field":"x","type":"quantitative"},"y":{"field":"y","type":"quantitative"},"text":{"field":"t"}}}
]},
{"width":187,"height":378,"layer":[
 {"data":{"name":"curves"},"transform":[{"filter":"datum.p==='B'"}],"mark":{"type":"line","color":"black","strokeWidth":1.9,"strokeJoin":"round"},"encoding":{"x":{"field":"x","type":"quantitative","scale":{"domain":[10,30],"nice":false,"zero":false},"axis":{"values":[10,15,20,25,30]}},"y":{"field":"y","type":"quantitative","scale":{"domain":[0,378],"nice":false},"axis":null},"detail":{"field":"s"}}},
 {"data":{"name":"labels"},"transform":[{"filter":"datum.p==='B' && datum.k==='panel'"}],"mark":{"type":"text","align":"left","baseline":"middle","font":"DejaVu Sans","fontWeight":"bold","fontSize":18,"color":"black"},"encoding":{"x":{"field":"x","type":"quantitative"},"y":{"field":"y","type":"quantitative"},"text":{"field":"t"}}},
 {"data":{"name":"labels"},"transform":[{"filter":"datum.p==='B' && datum.k==='sample'"}],"mark":{"type":"text","align":"left","baseline":"middle","font":"DejaVu Sans","fontWeight":"bold","fontSize":15,"color":"black"},"encoding":{"x":{"field":"x","type":"quantitative"},"y":{"field":"y","type":"quantitative"},"text":{"field":"t"}}}
]},
{"width":190,"height":378,"layer":[
 {"data":{"name":"curves"},"transform":[{"filter":"datum.p==='C'"}],"mark":{"type":"line","color":"black","strokeWidth":1.9,"strokeJoin":"round"},"encoding":{"x":{"field":"x","type":"quantitative","scale":{"domain":[10,30],"nice":false,"zero":false},"axis":{"values":[10,15,20,25,30]}},"y":{"field":"y","type":"quantitative","scale":{"domain":[0,378],"nice":false},"axis":null},"detail":{"field":"s"}}},
 {"data":{"name":"labels"},"transform":[{"filter":"datum.p==='C' && datum.k==='panel'"}],"mark":{"type":"text","align":"left","baseline":"middle","font":"DejaVu Sans","fontWeight":"bold","fontSize":18,"color":"black"},"encoding":{"x":{"field":"x","type":"quantitative"},"y":{"field":"y","type":"quantitative"},"text":{"field":"t"}}},
 {"data":{"name":"labels"},"transform":[{"filter":"datum.p==='C' && datum.k==='sample'"}],"mark":{"type":"text","align":"left","baseline":"middle","font":"DejaVu Sans","fontWeight":"bold","fontSize":15,"color":"black"},"encoding":{"x":{"field":"x","type":"quantitative"},"y":{"field":"y","type":"quantitative"},"text":{"field":"t"}}}
]},
{"width":185,"height":378,"layer":[
 {"data":{"name":"curves"},"transform":[{"filter":"datum.p==='D'"}],"mark":{"type":"line","color":"black","strokeWidth":1.9,"strokeJoin":"round"},"encoding":{"x":{"field":"x","type":"quantitative","scale":{"domain":[10,30],"nice":false,"zero":false},"axis":{"values":[10,15,20,25,30]}},"y":{"field":"y","type":"quantitative","scale":{"domain":[0,378],"nice":false},"axis":null},"detail":{"field":"s"}}},
 {"data":{"name":"labels"},"transform":[{"filter":"datum.p==='D' && datum.k==='panel'"}],"mark":{"type":"text","align":"left","baseline":"middle","font":"DejaVu Sans","fontWeight":"bold","fontSize":18,"color":"black"},"encoding":{"x":{"field":"x","type":"quantitative"},"y":{"field":"y","type":"quantitative"},"text":{"field":"t"}}},
 {"data":{"name":"labels"},"transform":[{"filter":"datum.p==='D' && datum.k==='sample'"}],"mark":{"type":"text","align":"left","baseline":"middle","font":"DejaVu Sans","fontWeight":"bold","fontSize":15,"color":"black"},"encoding":{"x":{"field":"x","type":"quantitative"},"y":{"field":"y","type":"quantitative"},"text":{"field":"t"}}}
]},
{"width":184,"height":381,"layer":[
 {"data":{"name":"curves"},"transform":[{"filter":"datum.p==='E'"}],"mark":{"type":"line","color":"black","strokeWidth":1.9,"strokeJoin":"round"},"encoding":{"x":{"field":"x","type":"quantitative","scale":{"domain":[10,30],"nice":false,"zero":false},"axis":{"values":[10,15,20,25,30]}},"y":{"field":"y","type":"quantitative","scale":{"domain":[0,381],"nice":false},"axis":null},"detail":{"field":"s"}}},
 {"data":{"name":"labels"},"transform":[{"filter":"datum.p==='E' && datum.k==='panel'"}],"mark":{"type":"text","align":"left","baseline":"middle","font":"DejaVu Sans","fontWeight":"bold","fontSize":18,"color":"black"},"encoding":{"x":{"field":"x","type":"quantitative"},"y":{"field":"y","type":"quantitative"},"text":{"field":"t"}}},
 {"data":{"name":"labels"},"transform":[{"filter":"datum.p==='E' && datum.k==='sample'"}],"mark":{"type":"text","align":"left","baseline":"middle","font":"DejaVu Sans","fontWeight":"bold","fontSize":15,"color":"black"},"encoding":{"x":{"field":"x","type":"quantitative"},"y":{"field":"y","type":"quantitative"},"text":{"field":"t"}}}
]}
]
}
